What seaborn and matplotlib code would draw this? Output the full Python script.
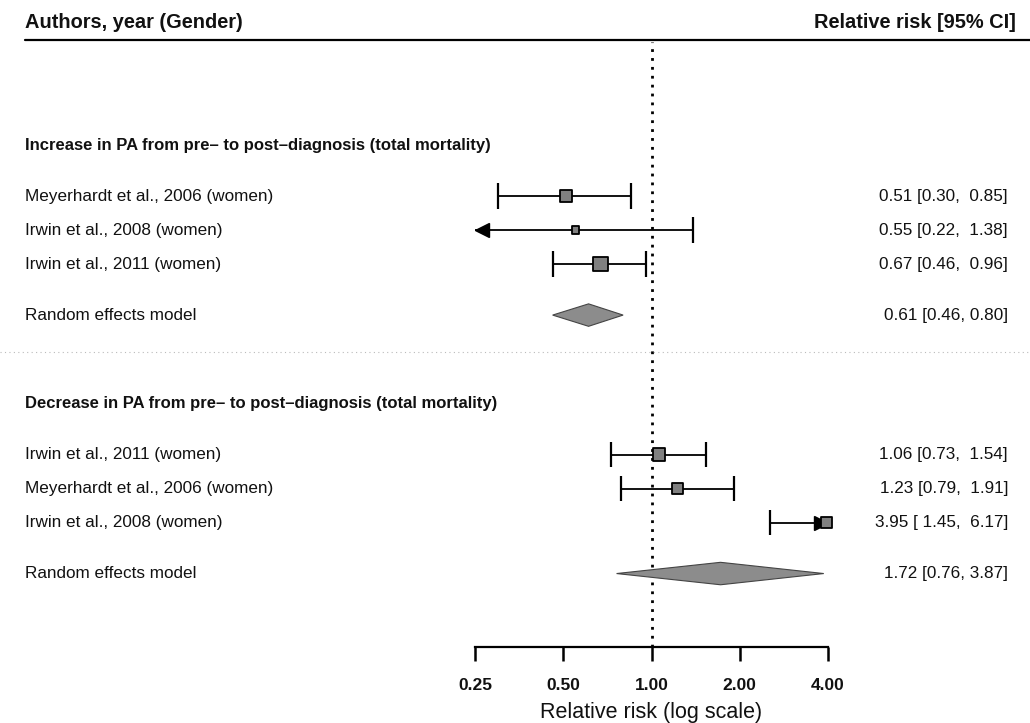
import numpy as np
import pandas as pd
import matplotlib
matplotlib.use("Agg")
import matplotlib.pyplot as plt
import matplotlib.transforms as mtransforms
from matplotlib.lines import Line2D
from matplotlib.patches import Polygon
import seaborn as sns

# --- DATA ---
groups = ["Increase in PA from pre\u2013 to post\u2013diagnosis (total mortality)",
          "Decrease in PA from pre\u2013 to post\u2013diagnosis (total mortality)"]

studies_inc = ["Meyerhardt et al., 2006 (women)", "Irwin et al., 2008 (women)", "Irwin et al., 2011 (women)"]
rr_inc = [0.51, 0.55, 0.67]
lo_inc = [0.30, 0.22, 0.46]
hi_inc = [0.85, 1.38, 0.96]
wt_inc = [36, 12, 52]
ci_txt_inc = ["0.51 [0.30,  0.85]", "0.55 [0.22,  1.38]", "0.67 [0.46,  0.96]"]
re_inc = [0.61, 0.46, 0.80]
re_txt_inc = "0.61 [0.46, 0.80]"

studies_dec = ["Irwin et al., 2011 (women)", "Meyerhardt et al., 2006 (women)", "Irwin et al., 2008 (women)"]
rr_dec = [1.06, 1.23, 3.95]
# lower bound of the last study as drawn in the figure (text says 1.45)
lo_dec = [0.73, 0.79, 2.53]
hi_dec = [1.54, 1.91, 6.17]
wt_dec = [38, 30, 32]
ci_txt_dec = ["1.06 [0.73,  1.54]", "1.23 [0.79,  1.91]", "3.95 [ 1.45,  6.17]"]
re_dec = [1.72, 0.76, 3.87]
re_txt_dec = "1.72 [0.76, 3.87]"

x_ticks = [0.25, 0.5, 1, 2, 4]
x_ticklabels = ["0.25", "0.50", "1.00", "2.00", "4.00"]

# --- LAYOUT (row units) ---
group_start = [0, 7.6]
row_offsets = [1.5, 2.5, 3.5]
re_offset = 5.0
sep_y = 6.1

rows = []
for g, (names, rr, lo, hi, wt, txt) in enumerate([
        (studies_inc, rr_inc, lo_inc, hi_inc, wt_inc, ci_txt_inc),
        (studies_dec, rr_dec, lo_dec, hi_dec, wt_dec, ci_txt_dec)]):
    for i in range(3):
        rows.append({"study": names[i], "rr": rr[i], "lo": lo[i], "hi": hi[i],
                     "w": wt[i], "txt": txt[i], "y": group_start[g] + row_offsets[i]})
df = pd.DataFrame(rows)

sns.set_theme(style="white")
plt.rcParams['font.family'] = ['Liberation Sans', 'DejaVu Sans']

W, H = 1030, 723
fig = plt.figure(figsize=(W / 100, H / 100), dpi=100)
ax_top, ax_bot = 42, 647
ax = fig.add_axes([475 / W, (H - ax_bot) / H, (828 - 475) / W, (ax_bot - ax_top) / H])
ax.set_xscale("log", base=2)
xmin, xmax = 0.25, 4
ax.set_xlim(xmin, xmax)
ax.set_ylim(14.76, -3.03)
ax.patch.set_alpha(0)
for s in ["top", "left", "right"]:
    ax.spines[s].set_visible(False)
ax.spines["bottom"].set_linewidth(1.6)
ax.spines["bottom"].set_color("black")
ax.set_yticks([])
ax.set_xticks(x_ticks)
ax.set_xticklabels(x_ticklabels, fontsize=12.5, fontweight="bold", color="#111111")
ax.xaxis.set_minor_locator(matplotlib.ticker.NullLocator())
ax.tick_params(axis="x", direction="out", length=10, width=1.8, color="black", pad=12, bottom=True)
ax.set_xlabel("Relative risk (log scale)", fontsize=15.5, labelpad=7, color="#111111")

# reference line
ax.axvline(1, color="black", ls=(0, (1, 2.2)), lw=2, zorder=1)

# confidence intervals, arrows where they run off the axis
cap = 0.38
shift_r = mtransforms.ScaledTranslation(5 / 72, 0, fig.dpi_scale_trans)
shift_l = mtransforms.ScaledTranslation(-5 / 72, 0, fig.dpi_scale_trans)
for _, r in df.iterrows():
    lo = max(r["lo"], xmin)
    hi = min(r["hi"], xmax)
    ax.hlines(r["y"], lo, hi, color="black", lw=1.3, zorder=2)
    if r["lo"] >= xmin:
        ax.vlines(lo, r["y"] - cap, r["y"] + cap, color="black", lw=1.6, zorder=2)
    else:
        ax.plot(lo, r["y"], marker="<", ms=10, color="black", zorder=3, clip_on=False,
                transform=ax.transData + shift_r)
    if r["hi"] <= xmax:
        ax.vlines(hi, r["y"] - cap, r["y"] + cap, color="black", lw=1.6, zorder=2)
    else:
        ax.plot(hi, r["y"], marker=">", ms=10, color="black", zorder=3, clip_on=False,
                transform=ax.transData + shift_l)

# study squares sized by weight
sns.scatterplot(data=df, x="rr", y="y", size="w", sizes=(30, 110), marker="s",
                color="#808080", edgecolor="black", linewidth=1.3, legend=False,
                ax=ax, zorder=4, clip_on=False)

# random effects diamonds
for g, re in enumerate([re_inc, re_dec]):
    y = group_start[g] + re_offset
    h = 0.33
    poly = Polygon([[re[1], y], [re[0], y - h], [re[2], y], [re[0], y + h]],
                   closed=True, facecolor="#8c8c8c", edgecolor="#444444", lw=0.8, zorder=3)
    ax.add_patch(poly)

# --- TEXT COLUMNS ---
tr = mtransforms.blended_transform_factory(fig.transFigure, ax.transData)
xl, xr = 25 / W, 1008 / W
fs = 12.3
tc = "#111111"
for _, r in df.iterrows():
    ax.text(xl, r["y"], r["study"], transform=tr, ha="left", va="center", fontsize=fs, color=tc)
    ax.text(xr, r["y"], r["txt"], transform=tr, ha="right", va="center", fontsize=fs, color=tc)
for g in range(2):
    ax.text(xl, group_start[g], groups[g], transform=tr, ha="left", va="center",
            fontsize=12, fontweight="bold", color=tc)
    ax.text(xl, group_start[g] + re_offset, "Random effects model", transform=tr,
            ha="left", va="center", fontsize=fs, color=tc)
    ax.text(xr, group_start[g] + re_offset, [re_txt_inc, re_txt_dec][g], transform=tr,
            ha="right", va="center", fontsize=fs, color=tc)

# separator between subgroups
sep = Line2D([0, 1], [sep_y, sep_y], transform=tr, color="#bbbbbb", lw=0.8, ls=(0, (1, 3)))
fig.add_artist(sep)

# header
fig.text(xl, 1 - 22 / H, "Authors, year (Gender)", ha="left", va="center",
         fontsize=14.4, fontweight="bold", color=tc)
fig.text(1016 / W, 1 - 22 / H, "Relative risk [95% CI]", ha="right", va="center",
         fontsize=14.4, fontweight="bold", color=tc)
fig.add_artist(Line2D([xl, 1], [1 - 40 / H, 1 - 40 / H], transform=fig.transFigure,
                      color="black", lw=1.6))

fig.savefig("out.png", dpi=100, facecolor="white")
